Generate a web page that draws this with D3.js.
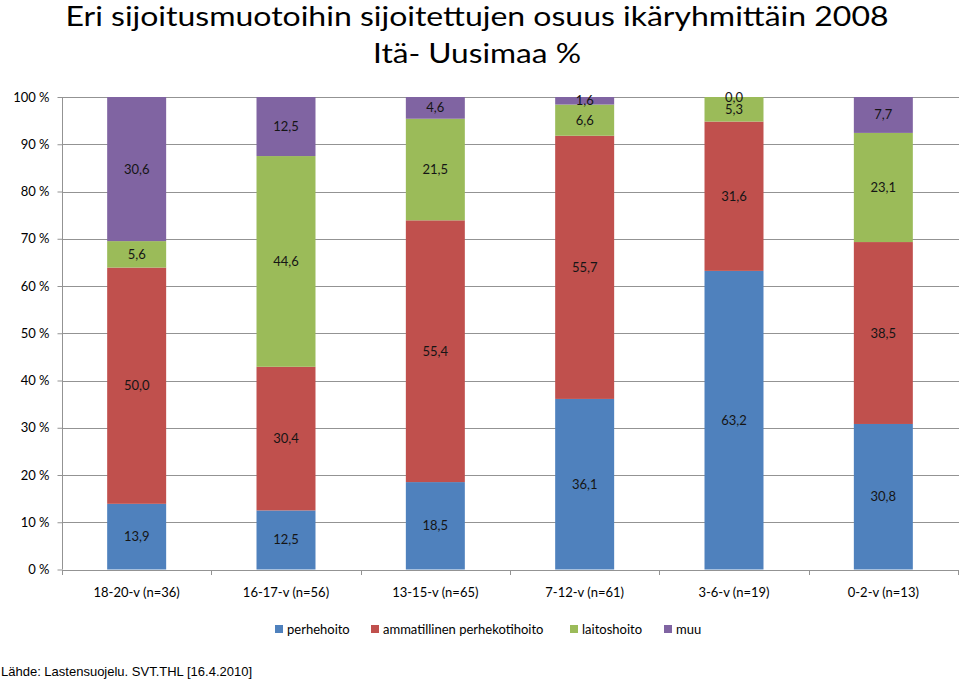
<!DOCTYPE html>
<html><head><meta charset="utf-8">
<script src="https://cdn.jsdelivr.net/npm/d3@7"></script>
<style>body{margin:0;background:#fff}svg{display:block}</style>
</head><body>
<svg id="c" width="959" height="681"></svg>
<script>
const categories = ["18-20-v (n=36)","16-17-v (n=56)","13-15-v (n=65)","7-12-v (n=61)","3-6-v (n=19)","0-2-v (n=13)"];
const seriesNames = ["perhehoito","ammatillinen perhekotihoito","laitoshoito","muu"];
const perhehoito = [13.9,12.5,18.5,36.1,63.2,30.8];
const ammatillinen = [50.0,30.4,55.4,55.7,31.6,38.5];
const laitoshoito = [5.6,44.6,21.5,6.6,5.3,23.1];
const muu = [30.6,12.5,4.6,1.6,0.0,7.7];
const yTicks = [0,10,20,30,40,50,60,70,80,90,100];
const colors = ["#4F81BD","#C0504D","#9BBB59","#8064A2"];

const series = [perhehoito, ammatillinen, laitoshoito, muu];
const svg = d3.select("#c");
const pLeft = 62, pRight = 958, pTop = 97, pBottom = 569.5;
const x = d3.scaleBand().domain(categories).range([pLeft, pRight]).paddingInner(0.605).paddingOuter(0.3025);
const y = d3.scaleLinear().domain([0,100]).range([pBottom, pTop]).clamp(true);
const font = "Lato, 'Open Sans', sans-serif";
const gridCol = "#939393";

// gridlines
svg.append("g").selectAll("line").data(yTicks.filter(d=>d>0)).join("line")
  .attr("x1", pLeft).attr("x2", pRight+1).attr("y1", d=>Math.round(y(d))+0.5).attr("y2", d=>Math.round(y(d))+0.5)
  .attr("stroke", gridCol).attr("stroke-width", 1);

// y axis
const yAxis = d3.axisLeft(y).tickValues(yTicks).tickSize(5).tickPadding(8).tickFormat(d => d + " %");
const ya = svg.append("g").attr("transform", `translate(${pLeft+0.5},0)`).call(yAxis);
ya.select(".domain").attr("stroke", gridCol).attr("d", `M0,${y(100)}V${pBottom}`);
ya.selectAll(".tick line").attr("stroke", gridCol);
ya.selectAll(".tick text").attr("font-family", font).attr("font-size", 13).attr("fill", "#000");

// stacked bars
const stackData = categories.map((c,i)=>{ const o={cat:c}; seriesNames.forEach((s,j)=>o[s]=series[j][i]); return o; });
const stacked = d3.stack().keys(seriesNames)(stackData);
const gBars = svg.append("g");
stacked.forEach((layer, j) => {
  gBars.append("g").attr("fill", colors[j]).selectAll("rect").data(layer).join("rect")
    .attr("x", d => x(d.data.cat)).attr("width", x.bandwidth())
    .attr("y", d => y(d[1])).attr("height", d => y(d[0]) - y(d[1]));
});

// x axis line and ticks
const xa = svg.append("g");
xa.append("line").attr("x1", pLeft).attr("x2", pRight+1).attr("y1", Math.round(pBottom)+0.5).attr("y2", Math.round(pBottom)+0.5).attr("stroke", gridCol);
const step = x.step();
xa.selectAll("line.t").data(d3.range(0, categories.length+1)).join("line").attr("class","t")
  .attr("x1", i => Math.round(pLeft + i*step)+0.5).attr("x2", i => Math.round(pLeft + i*step)+0.5)
  .attr("y1", Math.round(pBottom)).attr("y2", Math.round(pBottom)+5).attr("stroke", gridCol);
xa.selectAll("text").data(categories).join("text")
  .attr("x", d => x(d) + x.bandwidth()/2).attr("y", 597)
  .attr("text-anchor", "middle").attr("font-family", font).attr("font-size", 13).text(d => d);

// data labels
const fmt = v => v.toFixed(1).replace(".", ",");
stacked.forEach((layer, j) => {
  svg.append("g").selectAll("text").data(layer).join("text")
    .attr("x", d => x(d.data.cat) + x.bandwidth()/2)
    .attr("y", d => (y(d[0]) + y(d[1]))/2 + 4.5)
    .attr("text-anchor", "middle").attr("font-family", font).attr("font-size", 13).attr("fill", "#151515")
    .text(d => fmt(series[j][categories.indexOf(d.data.cat)]));
});

// legend
const legX = [275, 371, 570, 664];
const lg = svg.append("g");
seriesNames.forEach((s,j) => {
  lg.append("rect").attr("x", legX[j]).attr("y", 625).attr("width", 8).attr("height", 8).attr("fill", colors[j]);
  lg.append("text").attr("x", legX[j]+12).attr("y", 633.5).attr("font-family", font).attr("font-size", 13).text(s);
});

// title
svg.append("text").attr("x", 477).attr("y", 26).attr("text-anchor", "middle")
  .attr("font-family", font).attr("font-size", 26)
  .attr("textLength", 823).attr("lengthAdjust", "spacingAndGlyphs")
  .text("Eri sijoitusmuotoihin sijoitettujen osuus ikäryhmittäin 2008");
svg.append("text").attr("x", 477).attr("y", 63).attr("text-anchor", "middle")
  .attr("font-family", font).attr("font-size", 26)
  .attr("textLength", 208).attr("lengthAdjust", "spacingAndGlyphs")
  .text("Itä- Uusimaa %");

// source
svg.append("text").attr("x", 1).attr("y", 676).attr("font-family", "'Liberation Sans', Arial, sans-serif").attr("font-size", 13).text("Lähde: Lastensuojelu. SVT.THL [16.4.2010]");
</script>
</body></html>
